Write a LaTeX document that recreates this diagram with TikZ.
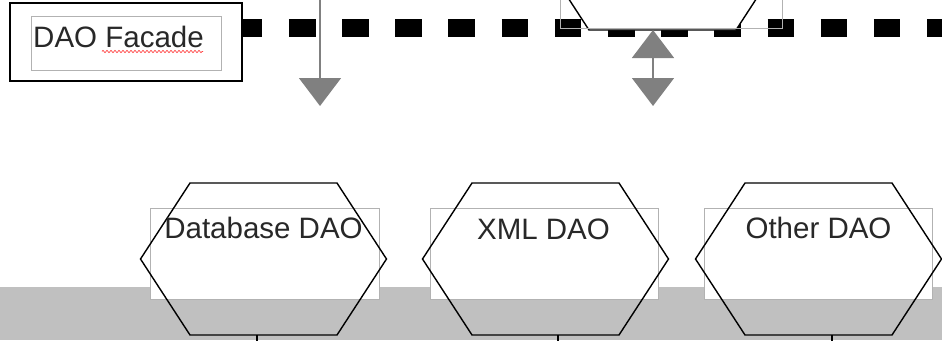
\documentclass[tikz,border=0pt]{standalone}
\usepackage{fontspec}
\setmainfont{Liberation Sans}
\usetikzlibrary{arrows.meta,decorations.pathmorphing}
\definecolor{band}{RGB}{192,192,192}
\definecolor{arrowgray}{RGB}{128,128,128}
\definecolor{boxgray}{RGB}{178,178,178}
\definecolor{txt}{RGB}{40,40,40}
\newcommand\hexat[2]{(#1-123,#2) -- (#1-73.5,#2-76) -- (#1+73.5,#2-76) -- (#1+123,#2) -- (#1+73.5,#2+76) -- (#1-73.5,#2+76) -- cycle}
\begin{document}
\begin{tikzpicture}[x=1pt,y=-1pt,
  hexa/.style={draw=black, line width=1.4pt, line join=miter},
  txtbox/.style={draw=boxgray, line width=0.9pt, fill=white, inner sep=0pt, minimum height=91pt},
  lbl/.style={font=\fontsize{29.5}{32}\selectfont, text=txt, anchor=base, inner sep=0pt},
  garrow/.style={draw=arrowgray, line width=1.5pt},
  gtip/.tip={Triangle[width=42pt,length=28pt]},
  stub/.style={draw=black, line width=1.2pt}]
\useasboundingbox (0,0) rectangle (942,340);
\clip (0,0) rectangle (942,340);
% gray band
\fill[band] (0,287) rectangle (942,340);
% facade box
\node[draw=black, line width=2pt, fill=white, minimum width=232pt, minimum height=78pt, inner sep=0pt] (facade) at (126,42) {};
\node[draw=boxgray, line width=0.8pt, minimum width=190pt, minimum height=54pt, inner sep=0pt] (facadein) at (126,43) {};
\node[lbl] (facadetxt) at (118.5,47) {DAO Facade};
\coordinate (spellA) at (102,51.5);
\coordinate (spellB) at (203,51.5);
\draw[red!75, line width=0.7pt, decorate, decoration={zigzag, segment length=4pt, amplitude=1.1pt}] (spellA) -- (spellB);
% thick dashed line
\coordinate (dashend) at (950,28);
\draw[black, line width=18.5pt, dash pattern=on 26.6pt off 26.57pt, dash phase=7.2pt] (facade.east |- 0,28) -- (dashend);
% top hexagon (partially visible)
\draw[hexa, fill=white] \hexat{662.5}{-46};
\node[draw=boxgray, line width=0.9pt, minimum width=222pt, minimum height=91pt, inner sep=0pt] (toprect) at (671,-17.5) {};
\coordinate (tophexbot) at (653,30);
% gray arrows
\coordinate (leftin) at (320,-5);
\coordinate (leftout) at (320,106);
\draw[garrow, -{gtip}] (leftin) -- (leftout);
\coordinate (dblout) at (653,106);
\draw[garrow, {gtip}-{gtip}] (tophexbot) -- (dblout);
% bottom boxes
\node[txtbox, minimum width=229pt] (dbbox) at (264.5,253.5) {};
\node[txtbox, minimum width=228pt] (xmlbox) at (544,253.5) {};
\node[txtbox, minimum width=228pt] (otherbox) at (818,253.5) {};
\draw[hexa] \hexat{263.5}{259};
\draw[hexa] \hexat{545.5}{259};
\draw[hexa] \hexat{818.5}{259};
\node[lbl] (db) at (263.5,238) {Database DAO};
\node[lbl] (xml) at (543.5,239) {XML DAO};
\node[lbl] (other) at (818.5,238) {Other DAO};
% connector stubs leaving the picture
\coordinate (dbbot) at (257,335);
\coordinate (dbout) at (257,345);
\coordinate (xmlbot) at (558,335);
\coordinate (xmlout) at (558,345);
\coordinate (otherbot) at (832,335);
\coordinate (otherout) at (832,345);
\draw[stub] (dbbot) -- (dbout);
\draw[stub] (xmlbot) -- (xmlout);
\draw[stub] (otherbot) -- (otherout);
\end{tikzpicture}
\end{document}
